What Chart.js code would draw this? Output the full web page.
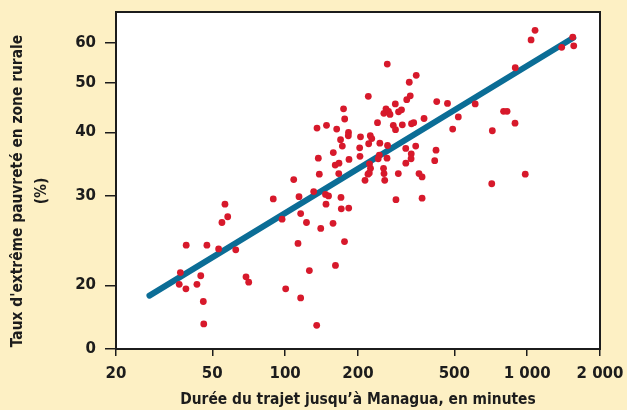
<!DOCTYPE html>
<html>
<head>
<meta charset="utf-8">
<script src="https://cdn.jsdelivr.net/npm/chart.js@4.4.0/dist/chart.umd.min.js"></script>
<style>
html,body{margin:0;padding:0;background:#fdf0c4;}
#wrap{width:627px;height:410px;}
</style>
</head>
<body>
<div id="wrap"><canvas id="c" width="627" height="410"></canvas></div>
<script>
// Travel time to Managua (minutes) and rural extreme poverty rate (%), one entry per municipality
const travelMinutes = [36.5, 36.9, 38.9, 39.0, 43.2, 44.8, 45.9, 46.1, 47.5, 53.1,
  54.8, 56.4, 57.9, 62.5, 68.9, 70.7, 89.3, 97.1, 100.5, 108.5,
  113, 114.1, 115.9, 115.9, 122.5, 125.9, 131.2, 135, 140.3, 146.8,
  151.1, 147.5, 157.7, 161.4, 170.1, 170.6, 175.9, 183.1, 287, 368,
  135.4, 137.1, 138.4, 148.2, 163.3, 158.1, 161, 166.9, 166.5, 169.4,
  172.3, 174.3, 176.2, 182.7, 182.4, 183.6, 204.8, 203.2, 203.8, 213.8,
  220.6, 221.4, 223.2, 225.3, 219.9, 222.7, 224.8, 228, 240.8, 246.2,
  245, 242.4, 255, 256.2, 257.9, 255.8, 261, 267.3, 271.2, 264.2,
  264.9, 263.6, 279.8, 285.8, 285.2, 294.1, 302.6, 293.5, 304.9, 315,
  315.2, 318, 328.8, 325.7, 331.9, 331.4, 332.8, 339.8, 346.3, 348,
  357.4, 368, 374.9, 415, 420.2, 423, 468.6, 492.4, 519.4, 610,
  714, 718, 799, 826, 891, 893, 982, 1038, 1078, 1389, 1543, 1558];
const povertyRate = [20.1, 21.2, 19.7, 24.0, 20.1, 20.9, 18.6, 16.8, 24.0, 23.6,
  26.6, 28.9, 27.3, 23.5, 20.8, 20.3, 29.6, 27.0, 19.7, 32.3,
  24.2, 29.9, 27.7, 18.9, 26.6, 21.4, 30.6, 16.7, 25.9, 30.2,
  30.0, 28.9, 26.5, 21.9, 29.8, 28.3, 24.4, 28.4, 29.5, 29.7,
  40.8, 35.6, 33.1, 41.3, 40.6, 36.5, 34.5, 34.8, 33.2, 38.7,
  37.6, 44.5, 42.5, 40.0, 39.4, 35.4, 39.2, 37.3, 35.9, 32.2,
  47.1, 38.0, 34.7, 34.0, 33.1, 33.3, 39.4, 38.9, 41.8, 38.1,
  36.1, 35.5, 34.0, 33.2, 32.2, 43.6, 44.5, 44.0, 43.4, 54.5,
  37.7, 35.6, 41.3, 40.5, 45.5, 43.9, 44.3, 33.2, 41.4, 37.2,
  34.8, 46.4, 47.2, 50.2, 36.3, 35.5, 41.6, 41.8, 37.6, 51.8,
  33.2, 32.7, 42.6, 35.2, 36.9, 46.0, 45.6, 40.6, 42.9, 45.5,
  31.7, 40.3, 44.0, 44.0, 41.7, 53.6, 33.1, 60.8, 63.5, 58.8, 61.6, 59.2];

// Fitted trend line end points
const fitMinutes = [27.5, 1552];
const fitRate = [19.1, 61.4];

// Axis ticks
const xTickValues = [20, 50, 100, 200, 500, 1000, 2000];
const yTickValues = [15, 20, 30, 40, 50, 60];   // bottom of broken axis is labelled "0"
const xTitle = "Durée du trajet jusqu’à Managua, en minutes";
const yTitle = ["Taux d'extrême pauvreté en zone rurale", "(%)"];

const FONT = "'DejaVu Sans Condensed', 'Liberation Sans Narrow', 'DejaVu Sans', sans-serif";
const TICKFONT = "'DejaVu Sans', sans-serif";
const INK = '#1c1c1c';
const TITLE_SIZE = 15.4;

const scatterData = travelMinutes.map((x, i) => ({x: x, y: povertyRate[i]}));
const fitData = fitMinutes.map((x, i) => ({x: x, y: fitRate[i]}));

function fmtThousands(v) {
  return String(v).replace(/\B(?=(\d{3})+(?!\d))/g, ' ');
}

const framePlugin = {
  id: 'frame',
  beforeDraw(chart) {
    const {ctx, chartArea: a} = chart;
    ctx.save();
    ctx.fillStyle = '#fdf0c4';
    ctx.fillRect(0, 0, chart.width, chart.height);
    ctx.fillStyle = '#ffffff';
    ctx.fillRect(a.left, a.top, a.right - a.left, a.bottom - a.top);
    ctx.restore();
  },
  afterDraw(chart) {
    const {ctx, chartArea: a} = chart;
    ctx.save();
    ctx.strokeStyle = INK;
    ctx.lineWidth = 2;
    ctx.strokeRect(a.left, a.top, a.right - a.left, a.bottom - a.top);
    // y-axis title (two lines, rotated), centred slightly below plot middle as in the original
    ctx.translate(0, 191);
    ctx.rotate(-Math.PI / 2);
    ctx.fillStyle = INK;
    ctx.font = 'bold ' + TITLE_SIZE + 'px ' + FONT;
    ctx.textAlign = 'center';
    ctx.textBaseline = 'middle';
    ctx.fillText(yTitle[0], 0, 17.5);
    ctx.fillText(yTitle[1], 0, 41.5);
    ctx.restore();
  }
};

new Chart(document.getElementById('c'), {
  data: {
    datasets: [
      {
        type: 'scatter',
        data: scatterData,
        backgroundColor: '#d7192b',
        borderWidth: 0,
        pointRadius: 3.4,
        pointHoverRadius: 3.4,
        order: 1
      },
      {
        type: 'line',
        data: fitData,
        borderColor: '#0b6d96',
        borderWidth: 6,
        borderCapStyle: 'round',
        pointRadius: 0,
        fill: false,
        order: 2
      }
    ]
  },
  options: {
    responsive: false,
    animation: false,
    devicePixelRatio: 1,
    layout: {padding: {left: 0, right: 27, top: 12, bottom: 0}},
    plugins: {legend: {display: false}, tooltip: {enabled: false}},
    scales: {
      x: {
        type: 'logarithmic',
        min: 20, max: 2000,
        afterBuildTicks: s => { s.ticks = xTickValues.map(v => ({value: v})); },
        afterFit: s => { s.height = 61; s.paddingLeft = 0; s.paddingRight = 0; },
        ticks: {
          autoSkip: false, maxRotation: 0, minRotation: 0, padding: 9, color: INK,
          font: {family: TICKFONT, size: 15, weight: 'bold'},
          callback: v => fmtThousands(v)
        },
        grid: {drawOnChartArea: false, drawTicks: true, tickLength: 7, color: INK, lineWidth: 1.5},
        border: {display: true, color: INK, width: 2},
        title: {
          display: true, text: xTitle, color: INK,
          font: {family: FONT, size: TITLE_SIZE, weight: 'bold', lineHeight: 1.2},
          padding: {top: 0, bottom: 1}
        }
      },
      y: {
        type: 'logarithmic',
        min: 15, max: 69,
        afterBuildTicks: s => { s.ticks = yTickValues.map(v => ({value: v})); },
        afterFit: s => { s.width = 116; s.paddingTop = 0; s.paddingBottom = 0; },
        ticks: {
          autoSkip: false, padding: 9, color: INK,
          font: {family: TICKFONT, size: 15, weight: 'bold'},
          callback: v => (v === 15 ? '0' : String(v))
        },
        grid: {drawOnChartArea: false, drawTicks: true, tickLength: 11, color: INK, lineWidth: 1.5},
        border: {display: true, color: INK, width: 2},
        title: {display: false}
      }
    }
  },
  plugins: [framePlugin]
});
</script>
</body>
</html>
